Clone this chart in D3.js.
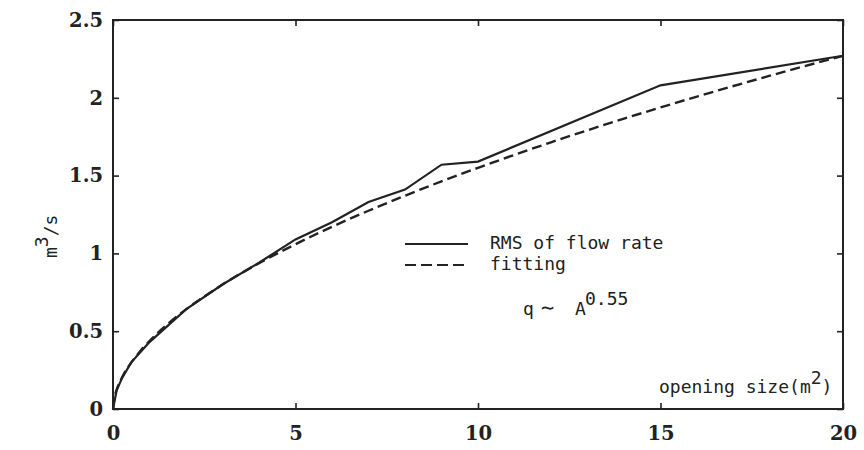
<!DOCTYPE html>
<html><head><meta charset="utf-8">
<script src="https://cdn.jsdelivr.net/npm/d3@7/dist/d3.min.js"></script>
<style>body{margin:0;background:#fff}svg{display:block}</style>
</head><body>
<svg id="c" width="864" height="450"></svg>
<script>
const xTicks = [0, 5, 10, 15, 20];
const yTicks = [0, 0.5, 1, 1.5, 2, 2.5];
const rmsA = [0, 0.1, 0.25, 0.5, 1, 2, 3, 4, 5, 6, 7, 8, 9, 10, 15, 20];
const rmsQ = [0, 0.12, 0.2, 0.3, 0.43, 0.64, 0.80, 0.94, 1.09, 1.20, 1.33, 1.41, 1.57, 1.59, 2.08, 2.27];
const fitA = [0, 0.05, 0.1, 0.25, 0.5, 0.75, 1, 1.5, 2, 2.5, 3, 4, 5, 6, 7, 8, 9, 10, 12, 14, 15, 16, 18, 20];
const fitQ = [0, 0.084, 0.123, 0.204, 0.298, 0.373, 0.437, 0.546, 0.640, 0.723, 0.800, 0.937, 1.059, 1.171, 1.274, 1.371, 1.463, 1.550, 1.714, 1.866, 1.938, 2.008, 2.142, 2.27];
const legendLabels = ["RMS of flow rate", "fitting"];

const svg = d3.select("#c");
const L = 113, R = 843, T = 20, B = 409;
const x = d3.scaleLinear().domain([0, 20]).range([L, R]);
const y = d3.scaleLinear().domain([0, 2.5]).range([B, T]);
const ink = "#222";
const serif = "'DejaVu Serif', serif";
const mono = "'DejaVu Sans Mono', monospace";

function styleAxis(g, showText) {
  g.select(".domain").remove();
  g.selectAll(".tick line").attr("stroke", ink).attr("stroke-width", 1.6);
  g.selectAll("text").attr("fill", ink).style("font-family", serif).style("font-weight", "bold").style("font-size", "19.5px");
  if (!showText) g.selectAll("text").remove();
}
svg.append("g").attr("transform", `translate(0,${B})`)
  .call(d3.axisBottom(x).tickValues(xTicks).tickSizeInner(-6).tickSizeOuter(0).tickPadding(17.5).tickFormat(d3.format("~g")))
  .call(g => styleAxis(g, true));
svg.append("g").attr("transform", `translate(${L},0)`)
  .call(d3.axisLeft(y).tickValues(yTicks).tickSizeInner(-6).tickSizeOuter(0).tickPadding(10).tickFormat(d3.format("~g")))
  .call(g => styleAxis(g, true));
svg.append("g").attr("transform", `translate(0,${T})`)
  .call(d3.axisTop(x).tickValues(xTicks).tickSizeInner(-6).tickSizeOuter(0))
  .call(g => styleAxis(g, false));
svg.append("g").attr("transform", `translate(${R},0)`)
  .call(d3.axisRight(y).tickValues(yTicks).tickSizeInner(-6).tickSizeOuter(0))
  .call(g => styleAxis(g, false));

svg.append("rect").attr("x", L).attr("y", T).attr("width", R - L).attr("height", B - T)
  .attr("fill", "none").attr("stroke", ink).attr("stroke-width", 2);

const line = d3.line().x(d => x(d[0])).y(d => y(d[1]));
svg.append("path").datum(rmsA.map((a, i) => [a, rmsQ[i]]))
  .attr("d", line.curve(d3.curveLinear)).attr("fill", "none").attr("stroke", ink).attr("stroke-width", 2.2);
svg.append("path").datum(fitA.map((a, i) => [a, fitQ[i]]))
  .attr("d", line.curve(d3.curveMonotoneX)).attr("fill", "none").attr("stroke", ink)
  .attr("stroke-width", 2.4).attr("stroke-dasharray", "10,5");

// legend
const lg = svg.append("g");
[[244, null], [265, "11,5"]].forEach((s, i) => {
  lg.append("line").attr("x1", 405).attr("x2", 468).attr("y1", s[0]).attr("y2", s[0])
    .attr("stroke", ink).attr("stroke-width", 2.2).attr("stroke-dasharray", s[1]);
  lg.append("text").attr("x", 490).attr("y", s[0] + 5).text(legendLabels[i])
    .style("font-family", mono).style("font-size", "18px").attr("fill", ink);
});

// formula
const f = svg.append("g").style("font-family", mono).style("font-size", "18px").attr("fill", ink);
f.append("text").attr("x", 523).attr("y", 315).text("q");
f.append("text").attr("x", 541).attr("y", 315).text("∼").style("font-size", "22px");
f.append("text").attr("x", 575).attr("y", 315).text("A");
f.append("text").attr("x", 585).attr("y", 305).text("0.55");

// axis titles
const xt = svg.append("text").attr("x", 659).attr("y", 393).attr("fill", ink)
  .style("font-family", mono).style("font-size", "18px");
xt.append("tspan").text("opening size(m");
xt.append("tspan").attr("dy", -9).text("2");
xt.append("tspan").attr("dy", 9).text(")");

const yt = svg.append("text").attr("transform", "translate(57,258) rotate(-90)").attr("fill", ink)
  .style("font-family", mono).style("font-size", "18px");
yt.append("tspan").text("m");
yt.append("tspan").attr("dy", -9).text("3");
yt.append("tspan").attr("dy", 9).text("/s");
</script>
</body></html>
